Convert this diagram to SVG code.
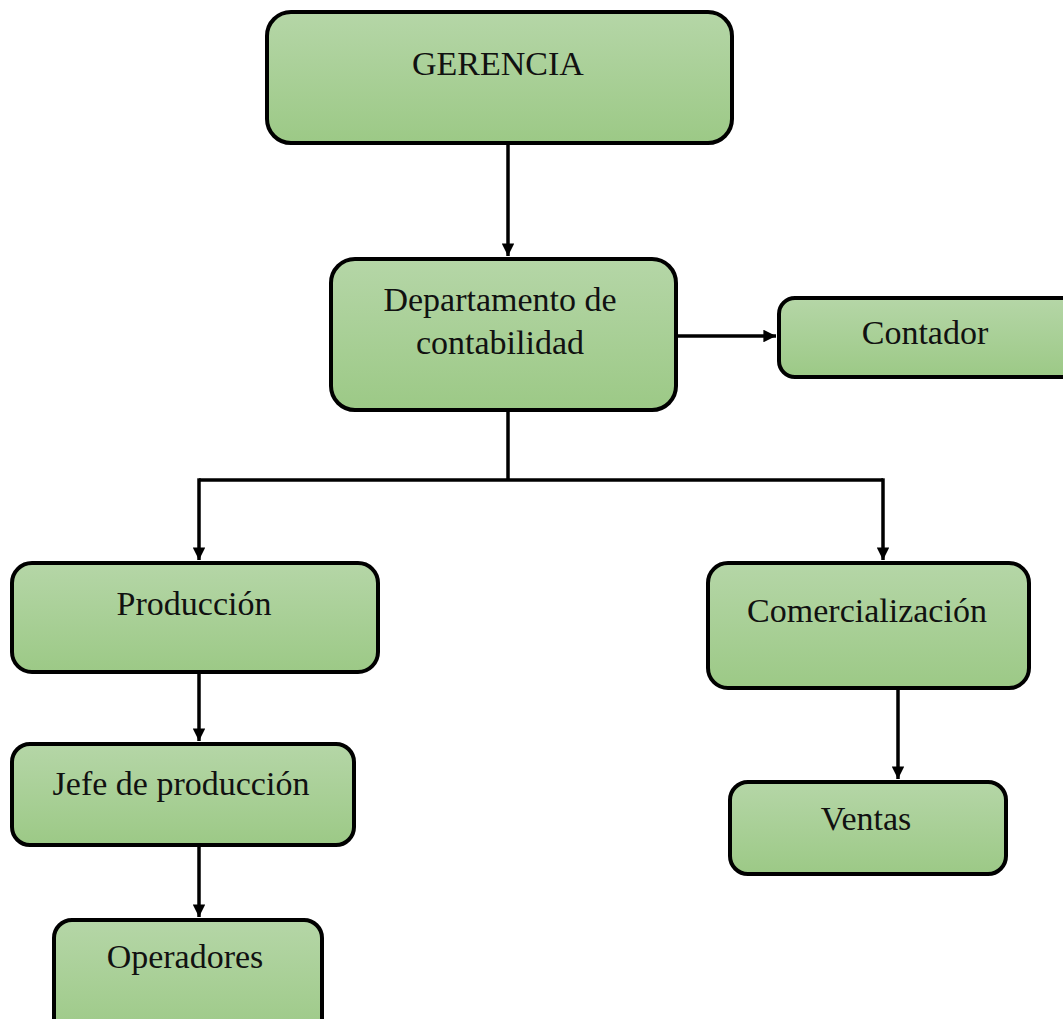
<svg xmlns="http://www.w3.org/2000/svg" width="1063" height="1019" viewBox="0 0 1063 1019">
<style>
.box{fill:url(#g);stroke:#000;stroke-width:4}
.t{font-family:"Liberation Serif","Times New Roman",serif;font-size:34px;fill:#111;text-anchor:middle}
.c{fill:none;stroke:#000;stroke-width:3.5}
</style>
<defs>
<linearGradient id="g" x1="0" y1="0" x2="0" y2="1">
<stop offset="0" stop-color="#b5d6a7"/>
<stop offset="1" stop-color="#9cc986"/>
</linearGradient>
<marker id="a" viewBox="0 0 10 10" refX="10" refY="5" markerWidth="3.6" markerHeight="3.6" orient="auto" markerUnits="strokeWidth">
<path d="M0,0L10,5L0,10z" fill="#000"/>
</marker>
</defs>
<rect width="1063" height="1019" fill="#fff"/>
<g id="connectors">
<line class="c" x1="508" y1="144" x2="508" y2="256" marker-end="url(#a)"/>
<line class="c" x1="677" y1="336" x2="776" y2="336" marker-end="url(#a)"/>
<polyline class="c" points="508,410 508,480"/>
<polyline class="c" points="199,480 883,480"/>
<line class="c" x1="199" y1="478.3" x2="199" y2="560" marker-end="url(#a)"/>
<line class="c" x1="883" y1="478.3" x2="883" y2="560" marker-end="url(#a)"/>
<line class="c" x1="199" y1="672" x2="199" y2="741" marker-end="url(#a)"/>
<line class="c" x1="199" y1="845" x2="199" y2="917" marker-end="url(#a)"/>
<line class="c" x1="898" y1="688" x2="898" y2="779" marker-end="url(#a)"/>
</g>
<g id="gerencia">
<rect class="box" x="267" y="12" width="465" height="131" rx="24"/>
<text class="t" x="498" y="75">GERENCIA</text>
</g>
<g id="departamento">
<rect class="box" x="331" y="259" width="345" height="151" rx="24"/>
<text class="t" x="500" y="311">Departamento de</text>
<text class="t" x="500" y="354">contabilidad</text>
</g>
<g id="contador">
<rect class="box" x="779" y="298" width="300" height="79" rx="16"/>
<text class="t" x="925" y="344">Contador</text>
</g>
<g id="produccion">
<rect class="box" x="12" y="563" width="366" height="109" rx="20"/>
<text class="t" x="194" y="615">Producción</text>
</g>
<g id="comercializacion">
<rect class="box" x="708" y="563" width="321" height="125" rx="20"/>
<text class="t" x="867" y="622">Comercialización</text>
</g>
<g id="jefe">
<rect class="box" x="12" y="744" width="342" height="101" rx="18"/>
<text class="t" x="181" y="795">Jefe de producción</text>
</g>
<g id="ventas">
<rect class="box" x="730" y="782" width="276" height="92" rx="18"/>
<text class="t" x="866" y="830">Ventas</text>
</g>
<g id="operadores">
<rect class="box" x="54" y="920" width="268" height="120" rx="18"/>
<text class="t" x="185" y="968">Operadores</text>
</g>
</svg>
